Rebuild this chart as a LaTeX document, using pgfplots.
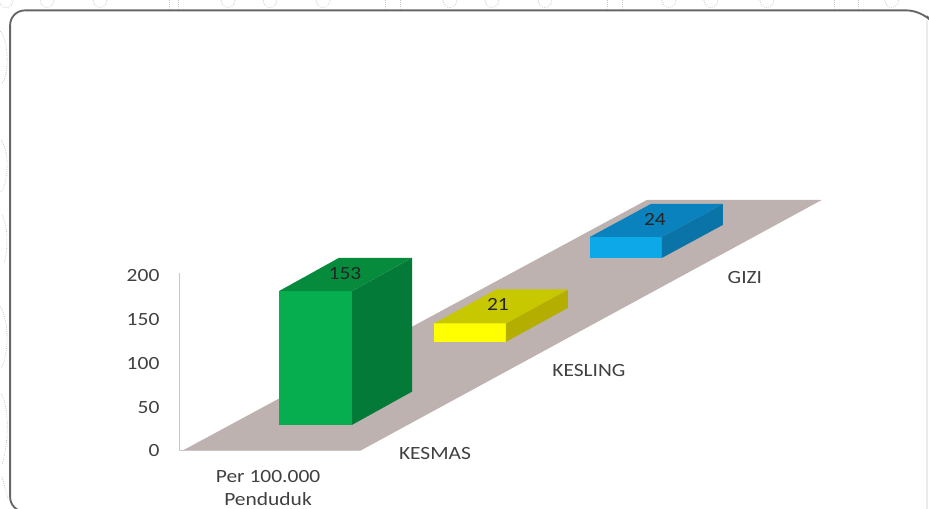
\documentclass[border=0pt]{standalone}
\usepackage{pgfplots}
\pgfplotsset{compat=1.18}
\usepackage{fontspec}
\setmainfont{Carlito}[FakeStretch=1.15]
\definecolor{floorc}{HTML}{BDB2B0}
\definecolor{txt}{HTML}{404040}
\definecolor{gf}{HTML}{06AE50}
\definecolor{gt}{HTML}{068A3C}
\definecolor{gs}{HTML}{047A38}
\definecolor{yf}{HTML}{FFFF00}
\definecolor{yt}{HTML}{C8C800}
\definecolor{ys}{HTML}{B4AE00}
\definecolor{bf}{HTML}{0CA8E8}
\definecolor{bt}{HTML}{0A82BE}
\definecolor{bs}{HTML}{0A74A8}
\begin{document}
\begin{tikzpicture}
\begin{axis}[
  scale only axis, width=696.75pt, height=381.75pt,
  xmin=0, xmax=929, ymin=-66.2857, ymax=515.4286,
  axis line style={draw=none},
  xtick=\empty, ytick={0,50,100,150,200},
  major tick length=0pt,
  yticklabel style={xshift=123pt, font=\fontsize{14}{16}\selectfont, text=txt},
  /pgf/number format/assume math mode=true,
  clip=true
]
% faint background pattern outside the frame
\tikzset{doily/.style={draw=black!22, line width=0.6pt, densely dotted}}
\pgfplotsinvokeforeach{6,47,100,228,270,323,450,492,545,669,711,767,892}{
  \draw[doily] (axis cs:#1-7,515.4) .. controls (axis cs:#1-6,504) and (axis cs:#1+6,504) .. (axis cs:#1+7,515.4);
}
\pgfplotsinvokeforeach{169,178,385,400,607,622,835,859}{
  \draw[doily] (axis cs:#1,515.4) -- (axis cs:#1,505);
}
\draw[doily] (axis cs:0,480) .. controls (axis cs:9,470) and (axis cs:9,430) .. (axis cs:2,420);
\draw[doily] (axis cs:1,355) .. controls (axis cs:9,345) and (axis cs:9,305) .. (axis cs:0,295);
\draw[doily] (axis cs:2,270) .. controls (axis cs:8,255) and (axis cs:8,230) .. (axis cs:4,215);
\draw[doily] (axis cs:0,165) .. controls (axis cs:9,150) and (axis cs:9,110) .. (axis cs:1,95);
\draw[doily] (axis cs:1,65) .. controls (axis cs:9,50) and (axis cs:9,10) .. (axis cs:2,-15);
\draw[doily] (axis cs:2,-30) -- (axis cs:8,-55);
% frame
\draw[draw=black!8, line width=1.2pt] (axis cs:927,492) -- (axis cs:927,-70);
\draw[draw=black!60, line width=1.4pt, rounded corners=11pt] (axis cs:60,-69.5) -- (axis cs:10,-69.5) -- (axis cs:10,503.5) -- (axis cs:922,503.5) -- (axis cs:927,497);
% floor
\addplot[fill=floorc, draw=none] coordinates {(182,0) (360,0) (822,286.9) (647,286.9)} -- cycle;
% y axis line
\addplot[draw=black!22, line width=0.75pt] coordinates {(179,0) (179,203)};
\addplot[draw=black!22, line width=0.75pt] coordinates {(179,0) (360,0)};
% KESMAS
\addplot[fill=gf, draw=none] coordinates {(279,29.7) (352,29.7) (352,182.7) (279,182.7)} -- cycle;
\addplot[fill=gs, draw=none] coordinates {(352,29.7) (412,67.7) (412,220.7) (352,182.7)} -- cycle;
\addplot[fill=gt, draw=none] coordinates {(279,182.7) (352,182.7) (412,220.7) (339,220.7)} -- cycle;
% KESLING
\addplot[fill=yf, draw=none] coordinates {(434,124.6) (506,124.6) (506,145.6) (434,145.6)} -- cycle;
\addplot[fill=ys, draw=none] coordinates {(506,124.6) (568,163.5) (568,184.5) (506,145.6)} -- cycle;
\addplot[fill=yt, draw=none] coordinates {(434,145.6) (506,145.6) (568,184.5) (496,184.5)} -- cycle;
% GIZI
\addplot[fill=bf, draw=none] coordinates {(590,220.6) (662,220.6) (662,244.6) (590,244.6)} -- cycle;
\addplot[fill=bs, draw=none] coordinates {(662,220.6) (723,258.3) (723,282.3) (662,244.6)} -- cycle;
\addplot[fill=bt, draw=none] coordinates {(590,244.6) (662,244.6) (723,282.3) (651,282.3)} -- cycle;
% labels
\tikzset{lab/.style={font=\fontsize{14}{16}\selectfont, text=txt, align=center, inner sep=0pt}}
\node[lab, text=black!85] at (axis cs:345,203) {153};
\node[lab, text=black!85] at (axis cs:498,167) {21};
\node[lab, text=black!85] at (axis cs:655,265) {24};
\node[lab] at (axis cs:435,-3.5) {KESMAS};
\node[lab] at (axis cs:589,92) {KESLING};
\node[lab] at (axis cs:745,198) {GIZI};
\node[lab] at (axis cs:268,-29.7) {Per 100.000};
\node[lab] at (axis cs:268,-55.5) {Penduduk};
\end{axis}
\end{tikzpicture}
\end{document}
